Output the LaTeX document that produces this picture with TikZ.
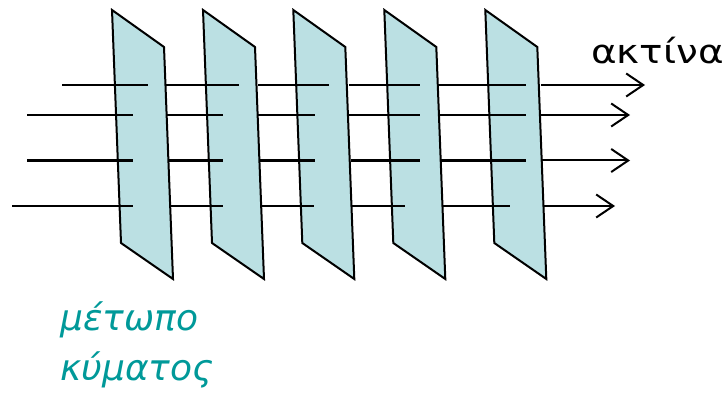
\documentclass[tikz,border=0pt]{standalone}
\usepackage{fontspec}
\setmainfont{DejaVu Sans}
\usetikzlibrary{arrows.meta}
\definecolor{platefill}{HTML}{BBE0E3}
\definecolor{labelteal}{HTML}{009999}
\tikzset{
  plate/.style={draw=black, fill=platefill, line width=2pt, line join=miter},
  ray/.style={draw=black, line width=2pt},
  thickray/.style={draw=black, line width=2.6pt},
  tip/.style={-{Straight Barb[length=17pt, width=23pt, line width=2pt]}},
  label/.style={anchor=base west, inner sep=0pt},
}
\begin{document}
\begin{tikzpicture}[x=1pt, y=-1pt]
\useasboundingbox (0,0) rectangle (725,395);
% plates
\foreach \i/\dx in {1/0, 2/91, 3/181.3, 4/272.3, 5/373.3} {
  \draw[plate] (112+\dx,10) -- (164+\dx,47) -- (173+\dx,279) -- (121+\dx,243) -- cycle;
}
% row 1 (y=85)
\coordinate (a0) at (62,85);   \coordinate (a1) at (148,85);
\coordinate (a2) at (166,85);  \coordinate (a3) at (239,85);
\coordinate (a4) at (258,85);  \coordinate (a5) at (329,85);
\coordinate (a6) at (349,85);  \coordinate (a7) at (420,85);
\coordinate (a8) at (437,85);  \coordinate (a9) at (526,85);
\coordinate (a10) at (541,85); \coordinate (a11) at (645,85);
\draw[ray] (a0) -- (a1); \draw[ray] (a2) -- (a3); \draw[ray] (a4) -- (a5);
\draw[ray] (a6) -- (a7); \draw[ray] (a8) -- (a9); \draw[ray,tip] (a10) -- (a11);
% row 2 (y=115)
\coordinate (b0) at (27,115);   \coordinate (b1) at (133,115);
\coordinate (b2) at (166,115);  \coordinate (b3) at (223,115);
\coordinate (b4) at (257,115);  \coordinate (b5) at (315,115);
\coordinate (b6) at (348,115);  \coordinate (b7) at (420,115);
\coordinate (b8) at (439,115);  \coordinate (b9) at (526,115);
\coordinate (b10) at (540,115); \coordinate (b11) at (630,115);
\draw[ray] (b0) -- (b1); \draw[ray] (b2) -- (b3); \draw[ray] (b4) -- (b5);
\draw[ray] (b6) -- (b7); \draw[ray] (b8) -- (b9); \draw[ray,tip] (b10) -- (b11);
% row 3 (y=160)
\coordinate (c0) at (27,160.5);   \coordinate (c1) at (133,160.5);
\coordinate (c2) at (168,160.5);  \coordinate (c3) at (223,160.5);
\coordinate (c4) at (259,160.5);  \coordinate (c5) at (315,160.5);
\coordinate (c6) at (351,160.5);  \coordinate (c7) at (420,160.5);
\coordinate (c8) at (441,160.5);  \coordinate (c9) at (526,160.5);
\coordinate (c10) at (542,160.5); \coordinate (c11) at (630,160.5);
\draw[thickray] (c0) -- (c1); \draw[thickray] (c2) -- (c3); \draw[thickray] (c4) -- (c5);
\draw[thickray] (c6) -- (c7); \draw[thickray] (c8) -- (c9); \draw[ray,tip] (c10) -- (c11);
% row 4 (y=206)
\coordinate (d0) at (12,206);   \coordinate (d1) at (133,206);
\coordinate (d2) at (170,206);  \coordinate (d3) at (223,206);
\coordinate (d4) at (261,206);  \coordinate (d5) at (314,206);
\coordinate (d6) at (352,206);  \coordinate (d7) at (405,206);
\coordinate (d8) at (442,206);  \coordinate (d9) at (510,206);
\coordinate (d10) at (543,206); \coordinate (d11) at (615,206);
\draw[ray] (d0) -- (d1); \draw[ray] (d2) -- (d3); \draw[ray] (d4) -- (d5);
\draw[ray] (d6) -- (d7); \draw[ray] (d8) -- (d9); \draw[ray,tip] (d10) -- (d11);
% labels
\node[label, font=\fontsize{33}{40}\selectfont] (ray) at (591,63.5) {\scalebox{1.18}[1]{ακτίνα}};
\node[label, text=labelteal, font=\fontsize{36}{43}\selectfont\itshape] (front1) at (60,330) {μέτωπο};
\node[label, text=labelteal, font=\fontsize{36}{43}\selectfont\itshape] (front2) at (60,380) {κύματος};
\end{tikzpicture}
\end{document}
